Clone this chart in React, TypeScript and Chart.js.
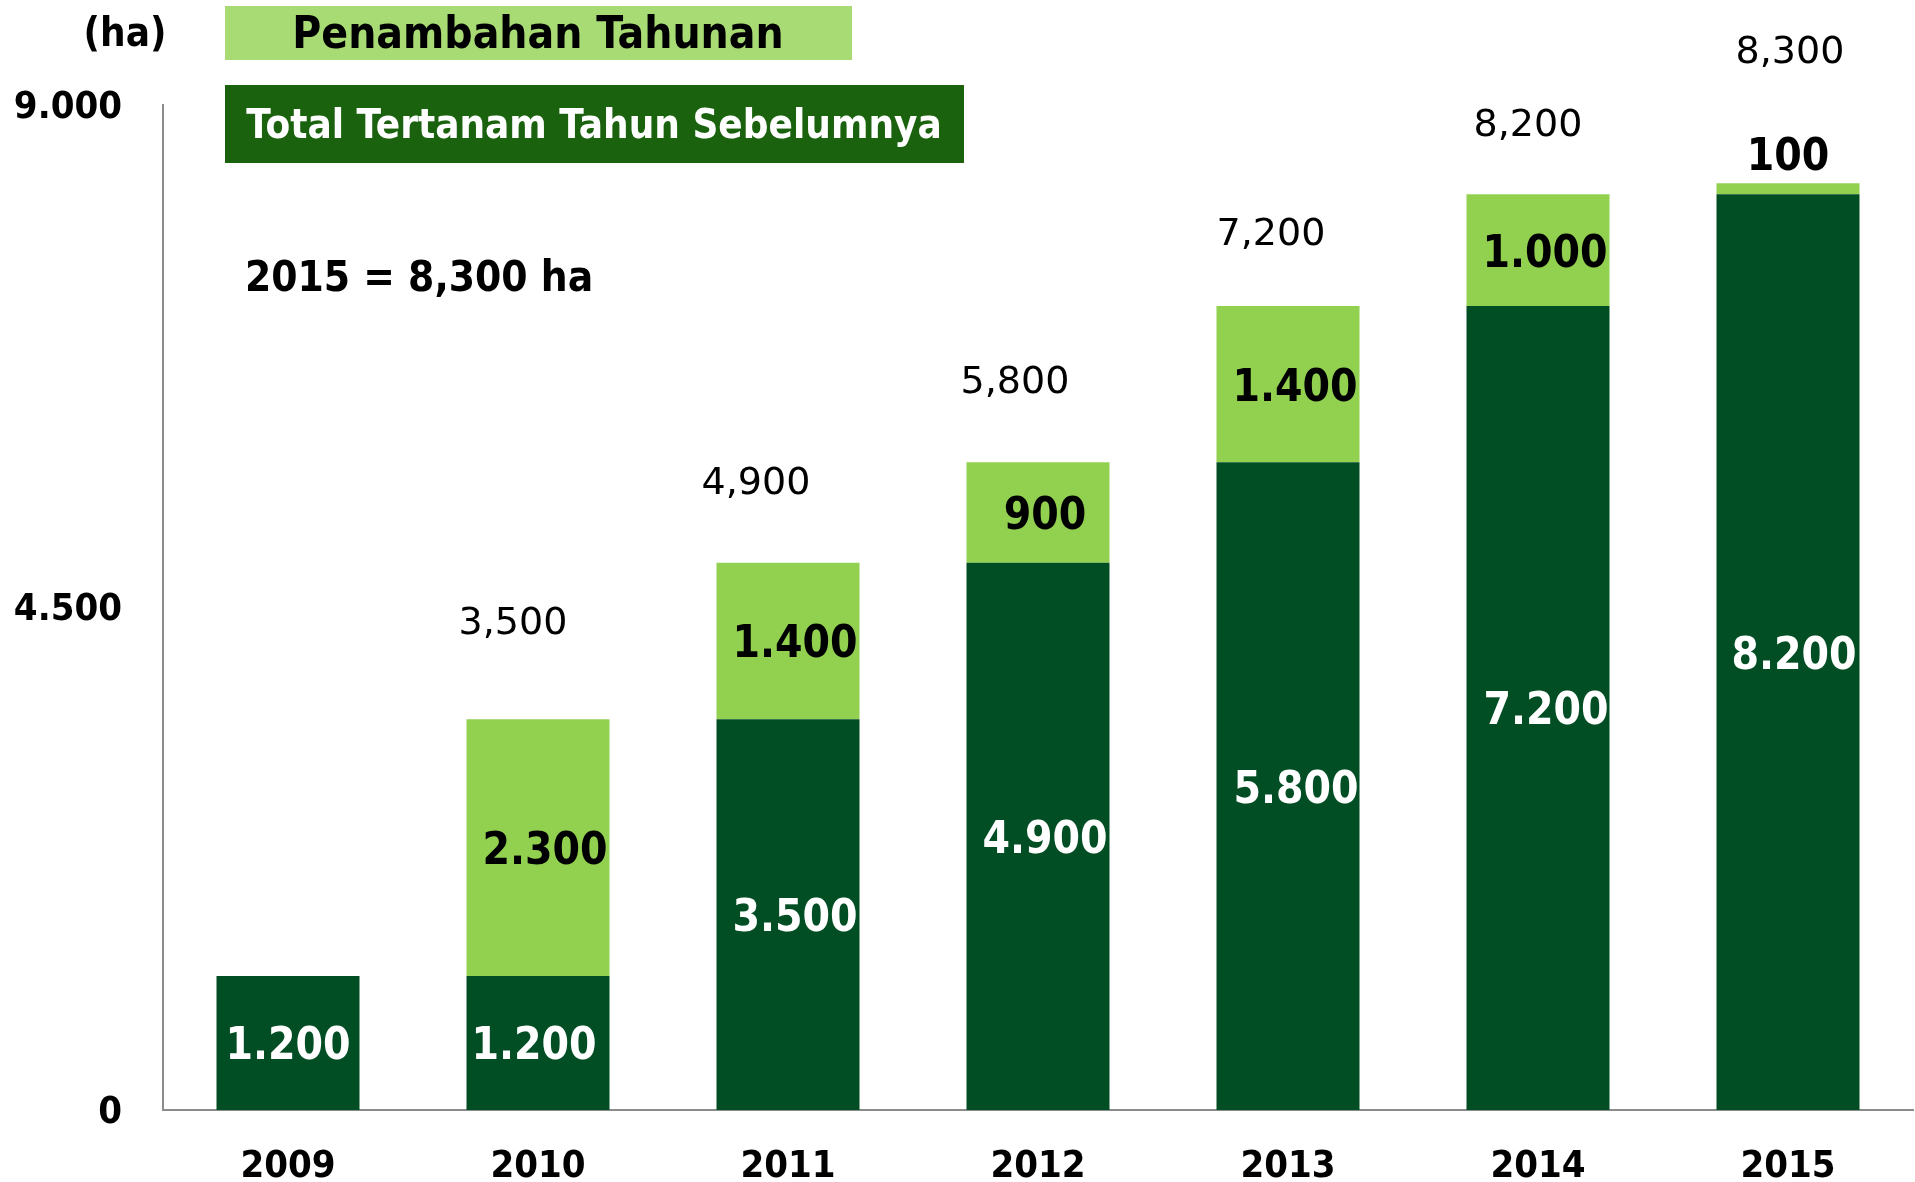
import React, { useEffect, useRef } from "react";
import { Chart, registerables } from "chart.js";

Chart.register(...registerables);

const years = ["2009", "2010", "2011", "2012", "2013", "2014", "2015"];
const previousTotal = [1200, 1200, 3500, 4900, 5800, 7200, 8200];
const annualAddition = [null, 2300, 1400, 900, 1400, 1000, 100];
const yTicks = [0, 4500, 9000];

const legendAnnual = "Penambahan Tahunan";
const legendPrevious = "Total Tertanam Tahun Sebelumnya";
const unitLabel = "(ha)";
const headline = "2015 = 8,300 ha";

const DARK = "#024E24";
const LIGHT = "#92D050";
const LEGEND_LIGHT = "#A9DB75";
const LEGEND_DARK = "#1A620D";
const AXIS = "#8C8C8C";
const COND = '"DejaVu Sans Condensed", "DejaVu Sans", sans-serif';
const SANS = '"DejaVu Sans", sans-serif';

// style: lift (px) and horizontal shift of the total labels above each bar
const TOTAL_LIFT = [0, 95, 79, 79, 71, 68, 130];
const TOTAL_SHIFT = [0, -25, -32, -23, -17, -10, 2];
const INNER_SHIFT = [0, -4, 7, 7, 8, 8, 6];

const dotFmt = (v: number) => String(v).replace(/\B(?=(\d{3})+(?!\d))/g, ".");
const commaFmt = (v: number) => String(v).replace(/\B(?=(\d{3})+(?!\d))/g, ",");

const labelsPlugin = {
  id: "customLabels",
  afterDraw(chart: any) {
    const ctx = chart.ctx as CanvasRenderingContext2D;
    ctx.save();
    // legend boxes
    ctx.fillStyle = LEGEND_LIGHT;
    ctx.fillRect(225, 6, 627, 54);
    ctx.fillStyle = LEGEND_DARK;
    ctx.fillRect(225, 85, 739, 78);
    ctx.textAlign = "center";
    ctx.textBaseline = "middle";
    ctx.fillStyle = "#000";
    ctx.font = `bold 44px ${COND}`;
    ctx.fillText(legendAnnual, 538, 37);
    ctx.fillStyle = "#fff";
    ctx.font = `bold 40px ${COND}`;
    ctx.fillText(legendPrevious, 594, 128);
    // unit and headline
    ctx.fillStyle = "#000";
    ctx.font = `bold 40px ${COND}`;
    ctx.fillText(unitLabel, 125, 36);
    ctx.textAlign = "left";
    ctx.font = `bold 42px ${COND}`;
    ctx.fillText(headline, 245, 280);

    const darkMeta = chart.getDatasetMeta(0);
    const lightMeta = chart.getDatasetMeta(1);
    ctx.textAlign = "center";
    darkMeta.data.forEach((el: any, i: number) => {
      const v = previousTotal[i];
      ctx.fillStyle = "#fff";
      ctx.font = `bold 44px ${COND}`;
      ctx.fillText(dotFmt(v), el.x + INNER_SHIFT[i], (el.y + el.base) / 2 + 5);
    });
    lightMeta.data.forEach((el: any, i: number) => {
      const v = annualAddition[i];
      if (v == null) return;
      ctx.fillStyle = "#000";
      ctx.font = `bold 44px ${COND}`;
      const h = el.base - el.y;
      if (h < 50) {
        ctx.fillText(dotFmt(v), el.x, el.y - 25);
      } else {
        ctx.fillText(dotFmt(v), el.x + 7, (el.y + el.base) / 2 + 5);
      }
      const total = previousTotal[i] + v;
      ctx.font = `38px ${SANS}`;
      ctx.fillText(commaFmt(total), el.x + TOTAL_SHIFT[i], el.y - TOTAL_LIFT[i]);
    });
    ctx.restore();
  },
};

export default function App() {
  const ref = useRef<HTMLCanvasElement | null>(null);
  useEffect(() => {
    if (!ref.current) return;
    const chart = new Chart(ref.current, {
      type: "bar",
      data: {
        labels: years,
        datasets: [
          {
            label: legendPrevious,
            data: previousTotal,
            backgroundColor: DARK,
            barPercentage: 0.572,
            categoryPercentage: 1,
          },
          {
            label: legendAnnual,
            data: annualAddition as any,
            backgroundColor: LIGHT,
            barPercentage: 0.572,
            categoryPercentage: 1,
          },
        ],
      },
      options: {
        responsive: false,
        animation: false,
        layout: { padding: { left: 0, right: 2, top: 105, bottom: 0 } },
        plugins: {
          legend: { display: false },
          tooltip: { enabled: false },
          title: { display: false },
        },
        scales: {
          x: {
            stacked: true,
            grid: { display: false, drawTicks: false },
            border: { display: true, color: AXIS, width: 2 },
            ticks: {
              color: "#000",
              font: { family: COND, size: 38, weight: "bold" },
              padding: 34,
              maxRotation: 0,
            },
            afterFit(scale: any) {
              scale.height = 72;
            },
          },
          y: {
            stacked: true,
            min: 0,
            max: 9000,
            afterBuildTicks(scale: any) {
              scale.ticks = yTicks.map((v) => ({ value: v }));
            },
            grid: { display: false, drawTicks: false },
            border: { display: true, color: AXIS, width: 2 },
            ticks: {
              color: "#000",
              font: { family: COND, size: 38, weight: "bold" },
              padding: 41,
              labelOffset: 3,
              callback: (v: any) => dotFmt(Number(v)),
            },
            afterFit(scale: any) {
              scale.width = 163;
            },
          },
        },
      },
      plugins: [labelsPlugin],
    });
    return () => chart.destroy();
  }, []);
  return (
    <div style={{ position: "fixed", left: 0, top: 0, width: 1915, height: 1182, background: "#fff" }}>
      <canvas ref={ref} width={1915} height={1182} style={{ display: "block" }} />
    </div>
  );
}
